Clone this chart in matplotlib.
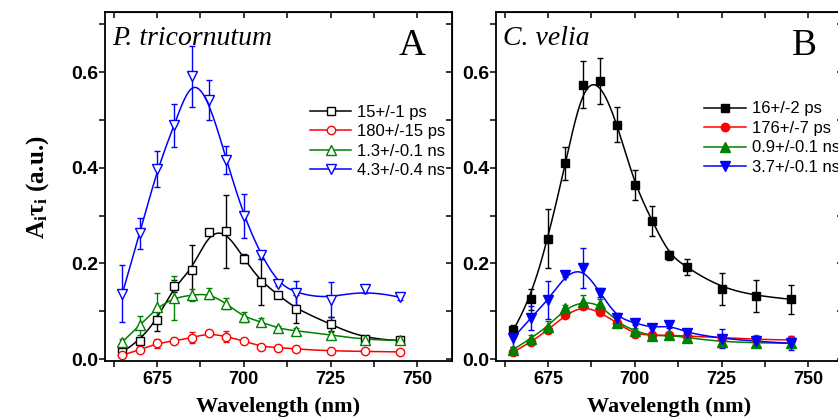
import matplotlib

matplotlib.use("Agg")
import matplotlib.pyplot as plt
import numpy as np
from matplotlib.lines import Line2D

plt.rcParams["mathtext.fontset"] = "custom"
plt.rcParams["mathtext.rm"] = "Liberation Serif"
plt.rcParams["mathtext.bf"] = "Liberation Serif:bold"
plt.rcParams["mathtext.it"] = "Liberation Serif:italic"

wavelength = [665, 670, 675, 680, 685, 690, 695, 700, 705, 710, 715, 725, 735, 745]

# panel A: P. tricornutum
pt_15ps = [0.015, 0.038, 0.082, 0.153, 0.186, 0.265, 0.267, 0.210, 0.162, 0.134, 0.105, 0.073, 0.041, 0.039]
pt_15ps_err = [0.004, 0.005, 0.024, 0.012, 0.053, 0.005, 0.077, 0.010, 0.048, 0.005, 0.030, 0.015, 0.007, 0.006]
pt_180ps = [0.008, 0.020, 0.033, 0.038, 0.045, 0.054, 0.047, 0.038, 0.026, 0.024, 0.021, 0.017, 0.016, 0.015]
pt_180ps_err = [0.004, 0.006, 0.010, 0.006, 0.012, 0.006, 0.012, 0.006, 0.005, 0.005, 0.004, 0.004, 0.004, 0.003]
pt_1_3ns = [0.036, 0.071, 0.108, 0.128, 0.134, 0.137, 0.116, 0.088, 0.078, 0.064, 0.059, 0.051, 0.040, 0.039]
pt_1_3ns_err = [0.006, 0.020, 0.030, 0.046, 0.012, 0.012, 0.012, 0.010, 0.007, 0.005, 0.006, 0.006, 0.006, 0.006]
pt_4_3ns = [0.137, 0.263, 0.398, 0.489, 0.591, 0.541, 0.416, 0.299, 0.217, 0.158, 0.138, 0.124, 0.146, 0.129]
pt_4_3ns_err = [0.060, 0.032, 0.038, 0.045, 0.063, 0.042, 0.029, 0.046, 0.008, 0.006, 0.025, 0.037, 0.008, 0.005]

# panel B: C. velia
cv_16ps = [0.061, 0.125, 0.252, 0.409, 0.574, 0.582, 0.490, 0.364, 0.289, 0.217, 0.192, 0.147, 0.132, 0.125]
cv_16ps_err = [0.010, 0.022, 0.062, 0.035, 0.050, 0.048, 0.037, 0.031, 0.031, 0.010, 0.017, 0.033, 0.034, 0.030]
cv_176ps = [0.015, 0.035, 0.061, 0.092, 0.111, 0.098, 0.075, 0.052, 0.050, 0.050, 0.048, 0.045, 0.041, 0.040]
cv_176ps_err = [0.004, 0.004, 0.006, 0.005, 0.006, 0.005, 0.005, 0.005, 0.004, 0.004, 0.004, 0.004, 0.004, 0.004]
cv_0_9ns = [0.020, 0.043, 0.068, 0.106, 0.120, 0.115, 0.076, 0.059, 0.048, 0.050, 0.045, 0.036, 0.034, 0.033]
cv_0_9ns_err = [0.006, 0.008, 0.012, 0.008, 0.015, 0.010, 0.008, 0.006, 0.006, 0.006, 0.008, 0.010, 0.008, 0.010]
cv_3_7ns = [0.045, 0.085, 0.123, 0.176, 0.191, 0.139, 0.086, 0.076, 0.065, 0.071, 0.055, 0.043, 0.037, 0.033]
cv_3_7ns_err = [0.020, 0.025, 0.040, 0.005, 0.042, 0.010, 0.010, 0.005, 0.008, 0.005, 0.006, 0.020, 0.012, 0.015]

pt_labels = ["15+/-1 ps", "180+/-15 ps", "1.3+/-0.1 ns", "4.3+/-0.4 ns"]
cv_labels = ["16+/-2 ps", "176+/-7 ps", "0.9+/-0.1 ns", "3.7+/-0.1 ns"]

colors = ["black", "#ff0000", "#008000", "#0000ff"]
markers = ["s", "o", "^", "v"]
marker_sizes = [5.5, 6, 7, 7]

SANS = "Liberation Sans"
SERIF = "Liberation Serif"


def bspline(x, y, samples=400):
    # clamped uniform cubic B-spline with the points as control points
    points = np.column_stack([x, y]).astype(float)
    count = len(points)
    degree = 3
    knots = np.concatenate(
        [np.zeros(degree), np.linspace(0, 1, count - degree + 1), np.ones(degree)]
    )
    t = np.linspace(0, 1 - 1e-9, samples)
    basis = np.zeros((samples, len(knots) - 1))
    for i in range(len(knots) - 1):
        basis[:, i] = (t >= knots[i]) & (t < knots[i + 1])
    for d in range(1, degree + 1):
        new = np.zeros((samples, len(knots) - 1 - d))
        for i in range(len(knots) - 1 - d):
            left = knots[i + d] - knots[i]
            right = knots[i + d + 1] - knots[i + 1]
            term = np.zeros(samples)
            if left > 0:
                term += (t - knots[i]) / left * basis[:, i]
            if right > 0:
                term += (knots[i + d + 1] - t) / right * basis[:, i + 1]
            new[:, i] = term
        basis = new
    curve = basis @ points
    curve[-1] = points[-1]
    return curve[:, 0], curve[:, 1]


def draw_panel(ax, series, labels, filled, title, letter, legend_x, legend_y):
    for (values, errors), color, marker, size, label in zip(
        series, colors, markers, marker_sizes, labels
    ):
        ax.errorbar(
            wavelength, values, yerr=errors, fmt="none", ecolor=color,
            elinewidth=1.0, capsize=2.5, capthick=1.0, zorder=2,
        )
        sx, sy = bspline(wavelength, values)
        ax.plot(sx, sy, color=color, linewidth=1.1, zorder=3)
        ax.plot(
            wavelength, values, linestyle="none", marker=marker, markersize=size,
            markeredgecolor=color, markerfacecolor=color if filled else "white",
            markeredgewidth=1.0, zorder=4,
        )
    handles = [
        Line2D([], [], color=c, marker=m, markersize=s, linewidth=1.1,
               markeredgecolor=c, markerfacecolor=c if filled else "white")
        for c, m, s in zip(colors, markers, marker_sizes)
    ]
    ax.legend(
        handles, labels, loc="upper left", bbox_to_anchor=(legend_x, legend_y),
        frameon=False, borderpad=0, borderaxespad=0, handlelength=2.5,
        handletextpad=0.35, labelspacing=0.27, prop={"family": SANS, "size": 12},
    )

    ax.set_xlim(660, 760)
    ax.set_ylim(-0.005, 0.725)
    ax.set_xticks([675, 700, 725, 750])
    ax.set_xticks(np.arange(662.5, 760, 12.5), minor=True)
    ax.set_yticks([0.0, 0.2, 0.4, 0.6])
    ax.set_yticks([0.1, 0.3, 0.5, 0.7], minor=True)
    ax.set_yticklabels(["0.0", "0.2", "0.4", "0.6"])
    ax.tick_params(which="both", direction="out", length=4, width=1.1,
                   top=False, right=False)
    ax.tick_params(axis="y", pad=1)
    ax.tick_params(axis="x", pad=3)
    for lab in ax.get_xticklabels():
        lab.set_fontfamily(SANS)
        lab.set_fontweight("bold")
        lab.set_fontsize(13)
    for lab in ax.get_yticklabels():
        lab.set_fontfamily(SANS)
        lab.set_fontweight("bold")
        lab.set_fontsize(14)
    for spine in ax.spines.values():
        spine.set_linewidth(1.3)

    top = ax.secondary_xaxis("top")
    top.set_xticks([675, 700, 725, 750])
    top.set_xticks(np.arange(662.5, 760, 12.5), minor=True)
    top.tick_params(which="both", direction="in", length=4, width=1.1, labeltop=False)
    right = ax.secondary_yaxis("right")
    right.set_yticks([0.0, 0.2, 0.4, 0.6])
    right.set_yticks([0.1, 0.3, 0.5, 0.7], minor=True)
    right.tick_params(which="both", direction="in", length=4, width=1.1, labelright=False)

    ax.set_xlabel("Wavelength (nm)", fontfamily=SERIF, fontweight="bold",
                  fontsize=16, labelpad=6)
    ax.text(0.02, 0.96, title, transform=ax.transAxes, fontfamily=SERIF,
            fontstyle="italic", fontsize=20, ha="left", va="top")
    ax.text(0.925, 0.955, letter, transform=ax.transAxes, fontfamily=SERIF,
            fontsize=27, ha="right", va="top")


figure = plt.figure(figsize=(8.38, 4.18), dpi=100)
ax_a = figure.add_axes([105 / 838, 0.1352, 347 / 838, 0.8354])
ax_b = figure.add_axes([496 / 838, 0.1352, 347 / 838, 0.8354])

draw_panel(
    ax_a,
    [(pt_15ps, pt_15ps_err), (pt_180ps, pt_180ps_err),
     (pt_1_3ns, pt_1_3ns_err), (pt_4_3ns, pt_4_3ns_err)],
    pt_labels, False, "P. tricornutum", "A", 0.59, 0.735,
)
draw_panel(
    ax_b,
    [(cv_16ps, cv_16ps_err), (cv_176ps, cv_176ps_err),
     (cv_0_9ns, cv_0_9ns_err), (cv_3_7ns, cv_3_7ns_err)],
    cv_labels, True, "C. velia", "B", 0.60, 0.745,
)
ax_a.set_ylabel(r"$\mathbf{A_i\tau_i}$ (a.u.)", fontfamily=SERIF, fontweight="bold",
                fontsize=18, labelpad=14)

figure.savefig("out.png", dpi=100)
plt.close(figure)
